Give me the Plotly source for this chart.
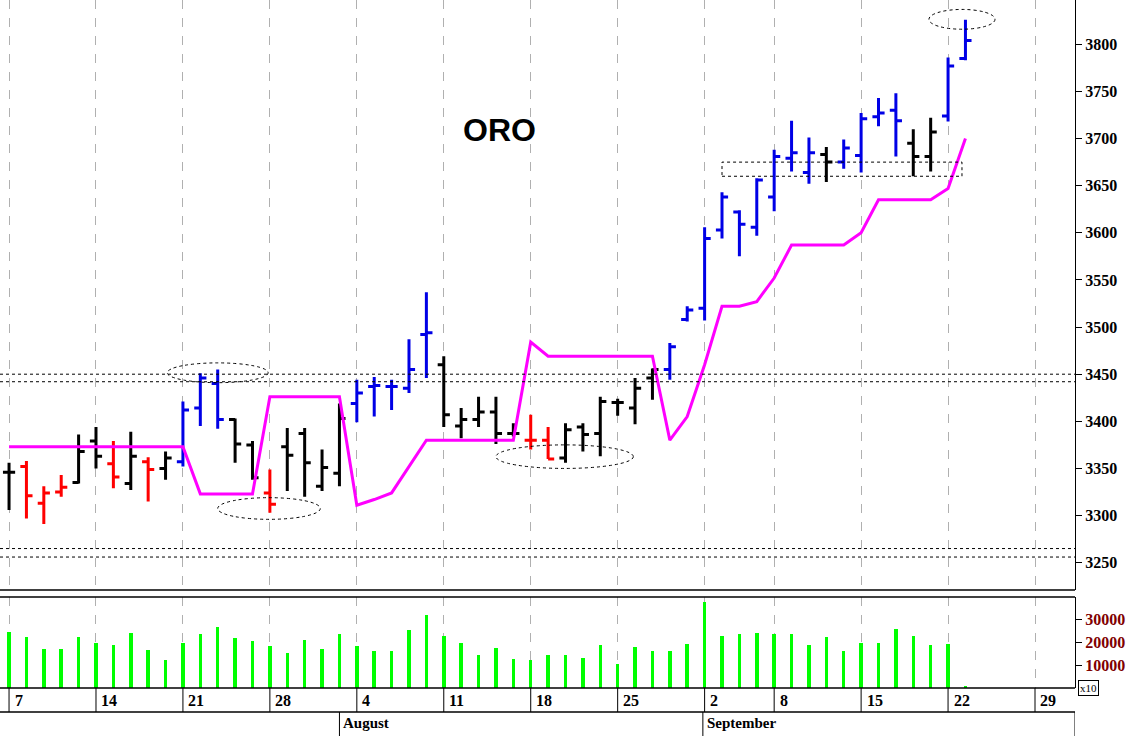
import plotly.graph_objects as go

# trading-day index 0 = Jul 7 ... 55 = Sep 23
opens = [3346, 3352, 3313, 3325, 3335, 3379, 3355, 3334, 3357, 3350,
         3357, 3414, 3440, 3402, 3375, 3324, 3373, 3387, 3331, 3345,
         3419, 3437, 3437, 3435, 3492, 3460, 3395, 3402, 3410, 3387,
         3380, 3380, 3361, 3394, 3387, 3420, 3414, 3446, 3455, 3508,
         3520, 3603, 3622, 3606, 3638, 3679, 3664, 3683, 3675, 3682,
         3723, 3730, 3695, 3681, 3724, 3785]
highs = [3356, 3358, 3331, 3343, 3386, 3394, 3379, 3389, 3362, 3368,
         3421, 3451, 3455, 3403, 3379, 3349, 3393, 3393, 3370, 3419,
         3444, 3447, 3444, 3487, 3537, 3469, 3414, 3426, 3426, 3398,
         3407, 3394, 3398, 3398, 3426, 3424, 3446, 3456, 3483, 3522,
         3606, 3643, 3624, 3658, 3688, 3719, 3701, 3691, 3699, 3727,
         3743, 3748, 3710, 3722, 3786, 3826]
lows = [3306, 3297, 3291, 3320, 3334, 3350, 3329, 3327, 3315, 3338,
        3352, 3395, 3392, 3356, 3338, 3303, 3326, 3320, 3326, 3331,
        3399, 3405, 3412, 3430, 3446, 3394, 3382, 3394, 3376, 3384,
        3370, 3360, 3356, 3368, 3363, 3406, 3397, 3423, 3444, 3506,
        3507, 3594, 3575, 3597, 3623, 3665, 3652, 3654, 3668, 3664,
        3713, 3681, 3660, 3665, 3718, 3783]
closes = [3346, 3321, 3324, 3330, 3368, 3363, 3341, 3363, 3349, 3361,
          3412, 3446, 3402, 3376, 3340, 3312, 3364, 3356, 3351, 3403,
          3430, 3438, 3437, 3455, 3494, 3407, 3402, 3410, 3387, 3387,
          3380, 3360, 3391, 3386, 3421, 3420, 3435, 3455, 3479, 3518,
          3594, 3638, 3609, 3656, 3681, 3685, 3685, 3675, 3690, 3721,
          3727, 3719, 3681, 3707, 3777, 3804]
bar_colors = ["k", "r", "r", "r", "k", "k", "r", "k", "r", "k",
              "b", "b", "b", "k", "k", "r", "k", "k", "k", "k",
              "b", "b", "b", "b", "b", "k", "k", "k", "k", "k",
              "r", "r", "k", "k", "k", "k", "k", "k", "b", "b",
              "b", "b", "b", "b", "b", "b", "b", "k", "b", "b",
              "b", "b", "k", "k", "b", "b"]
stop_line = [3373, 3373, 3373, 3373, 3373, 3373, 3373, 3373, 3373, 3373,
             3373, 3323, 3323, 3323, 3323, 3426, 3426, 3426, 3426, 3426,
             3311, 3317, 3324, 3352, 3380, 3380, 3380, 3380, 3380, 3380,
             3484, 3469, 3469, 3469, 3469, 3469, 3469, 3469, 3380, 3405,
             3460, 3522, 3522, 3527, 3552, 3587, 3587, 3587, 3587, 3600,
             3635, 3635, 3635, 3635, 3647, 3700]
volumes = [24500, 22500, 17200, 17200, 22500, 19900, 18700, 24200, 16700, 12300,
           19900, 23800, 26800, 22200, 20600, 18400, 15500, 21300, 17000, 23800,
           18400, 16100, 16400, 25700, 32200, 23000, 19900, 14300, 17400, 12600,
           12300, 14300, 14300, 13000, 19100, 10400, 18100, 16100, 16100, 19400,
           37700, 23000, 23800, 24200, 23800, 23800, 18700, 22500, 16100, 19900,
           19900, 25900, 23000, 19100, 19400, 700]
week_idx = [0, 5, 10, 15, 20, 25, 30, 35, 40, 44, 49, 54, 59]
week_labels = ["7", "14", "21", "28", "4", "11", "18", "25", "2", "8", "15", "22", "29"]
month_idx = [19, 39.9, 61.3]
month_labels = ["August", "September", "O"]
price_ticks = [3250, 3300, 3350, 3400, 3450, 3500, 3550, 3600, 3650, 3700, 3750, 3800]
vol_ticks = [10000, 20000, 30000]

COLORS = {"k": "black", "r": "#ff0000", "b": "#0000e6"}
SERIF = "Liberation Serif"

fig = go.Figure()
for key, col in COLORS.items():
    ids = [i for i, c in enumerate(bar_colors) if c == key]
    fig.add_trace(go.Ohlc(
        x=ids,
        open=[opens[i] for i in ids], high=[highs[i] for i in ids],
        low=[lows[i] for i in ids], close=[closes[i] for i in ids],
        increasing=dict(line=dict(color=col, width=3)),
        decreasing=dict(line=dict(color=col, width=3)),
        tickwidth=0.35, showlegend=False, xaxis="x", yaxis="y",
    ))

fig.add_trace(go.Scatter(
    x=list(range(len(stop_line))), y=stop_line, mode="lines",
    line=dict(color="#ff00ff", width=3), showlegend=False, xaxis="x", yaxis="y",
))

fig.add_trace(go.Bar(
    x=list(range(len(volumes))), y=volumes, width=0.2,
    marker_color="#00ff00", marker_line_width=0, showlegend=False,
    xaxis="x2", yaxis="y2",
))

xr = [-0.52, 61.3]
grid = dict(tickmode="array", tickvals=week_idx, showgrid=True, gridcolor="#b0b0b0",
            griddash="dash", gridwidth=1, showticklabels=False, ticks="",
            zeroline=False, range=xr)

fig.update_layout(
    width=1147, height=736,
    margin=dict(l=0, r=72, t=0, b=48),
    paper_bgcolor="white", plot_bgcolor="white",
    xaxis=dict(**grid, anchor="y", domain=[0, 1], rangeslider=dict(visible=False)),
    xaxis2=dict(**grid, anchor="y2", domain=[0, 1], matches="x"),
    yaxis=dict(domain=[0.1424, 1], range=[3221, 3847], side="right",
               tickvals=price_ticks, showgrid=False, zeroline=False,
               showline=True, linecolor="black", linewidth=1, mirror=False,
               ticks="outside", ticklen=6, tickcolor="black",
               tickfont=dict(family=SERIF, size=16, color="black", weight="bold")),
    yaxis2=dict(domain=[0, 0.1323], range=[0, 40000], side="right",
                tickvals=vol_ticks, ticktext=[str(v) for v in vol_ticks],
                showgrid=False, zeroline=False,
                showline=True, linecolor="black", linewidth=1,
                ticks="outside", ticklen=6, tickcolor="black",
                tickfont=dict(family=SERIF, size=16, color="#800000", weight="bold")),
    bargap=0,
)

shapes = []
# panel separators
for yp in [0.1424, 0.1323, 0.0, -0.0349]:
    shapes.append(dict(type="line", xref="paper", yref="paper", x0=0, x1=1, y0=yp, y1=yp,
                       line=dict(color="black", width=1.5)))
# date-row separators
for wi in week_idx:
    shapes.append(dict(type="line", xref="x2", yref="paper", x0=wi, x1=wi, y0=0, y1=-0.0349,
                       line=dict(color="black", width=1)))
for mi in month_idx:
    shapes.append(dict(type="line", xref="x2", yref="paper", x0=mi, x1=mi, y0=-0.0349, y1=-0.0698,
                       line=dict(color="black", width=1)))
# dashed reference lines
for lvl in [3450, 3442, 3265, 3256]:
    shapes.append(dict(type="line", xref="paper", yref="y", x0=0, x1=1, y0=lvl, y1=lvl,
                       line=dict(color="black", width=1, dash="dot")))
# dashed ellipses and box
for x0, x1, y0, y1 in [(9.1, 14.9, 3441, 3462), (12.0, 17.9, 3296, 3319),
                       (28.0, 35.9, 3350, 3375), (52.9, 56.7, 3816, 3837)]:
    shapes.append(dict(type="circle", xref="x", yref="y", x0=x0, x1=x1, y0=y0, y1=y1,
                       line=dict(color="black", width=1, dash="dot")))
shapes.append(dict(type="rect", xref="x", yref="y", x0=41.0, x1=54.8, y0=3660, y1=3675,
                   line=dict(color="black", width=1, dash="dot")))

annotations = [dict(text="<b>ORO</b>", x=28.2, y=3709, xref="x", yref="y", showarrow=False,
                    font=dict(family="Liberation Sans", size=32, color="black"))]
for wi, lab in zip(week_idx, week_labels):
    annotations.append(dict(text="<b>" + lab + "</b>", x=wi + 0.2, y=-0.0175, xref="x2", yref="paper",
                            xanchor="left", yanchor="middle", showarrow=False,
                            font=dict(family=SERIF, size=16, color="black")))
for mi, lab in zip(month_idx, month_labels):
    annotations.append(dict(text="<b>" + lab + "</b>", x=mi + 0.1, y=-0.0515, xref="x2", yref="paper",
                            xanchor="left", yanchor="middle", showarrow=False,
                            font=dict(family=SERIF, size=15, color="black")))
annotations.append(dict(text="x10", x=1.003, y=-0.012, xref="paper", yref="paper",
                        xanchor="left", yanchor="bottom", showarrow=False,
                        bordercolor="black", borderwidth=1, borderpad=1,
                        font=dict(family=SERIF, size=11, color="black")))

fig.update_layout(shapes=shapes, annotations=annotations)

fig.write_html("out.html", config={"displayModeBar": False},
               post_script="document.body.style.margin='0';")
